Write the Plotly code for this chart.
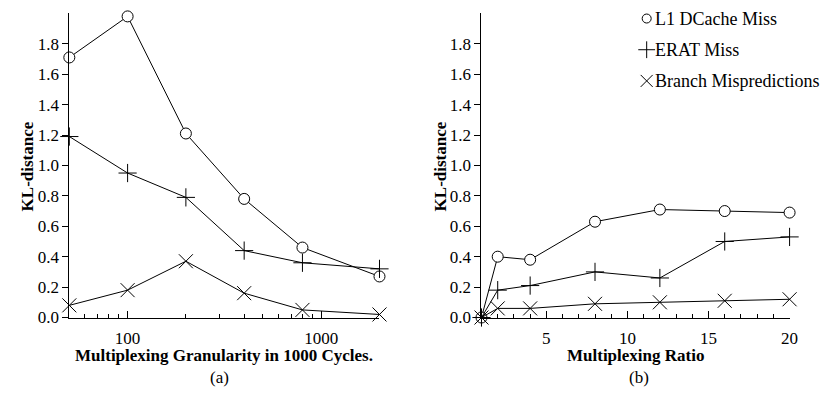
import plotly.graph_objects as go

# ---- data -------------------------------------------------------------
granularity = [50, 100, 200, 400, 800, 2000]          # x for panel (a), 1000 cycles
l1_miss_a = [1.71, 1.98, 1.21, 0.78, 0.46, 0.27]
erat_miss_a = [1.19, 0.95, 0.79, 0.44, 0.36, 0.32]
branch_mis_a = [0.08, 0.18, 0.37, 0.16, 0.05, 0.02]

ratio = [1, 2, 4, 8, 12, 16, 20]                       # x for panel (b)
l1_miss_b = [0.0, 0.40, 0.38, 0.63, 0.71, 0.70, 0.69]
erat_miss_b = [0.0, 0.18, 0.21, 0.30, 0.26, 0.50, 0.53]
branch_mis_b = [0.0, 0.06, 0.06, 0.09, 0.10, 0.11, 0.12]

series_names = ["L1 DCache Miss", "ERAT Miss", "Branch Mispredictions"]
y_ticks = [0.0, 0.2, 0.4, 0.6, 0.8, 1.0, 1.2, 1.4, 1.6, 1.8]
xb_ticks = [5, 10, 15, 20]

# ---- styling ------------------------------------------------------------
W, H = 827, 398
FONT = "Liberation Serif, Times New Roman, serif"
INK = "black"
symbols = ["circle", "cross-thin-open", "x-thin-open"]
fills = ["white", INK, INK]
sizes = [11, 13, 14]
legend_sizes = [9, 12, 12]


def px_x(p):
    return p / W


def px_y(p):
    return 1 - p / H


fig = go.Figure()

panels = [
    ("x", "y", granularity, [l1_miss_a, erat_miss_a, branch_mis_a]),
    ("x2", "y2", ratio, [l1_miss_b, erat_miss_b, branch_mis_b]),
]
for xa, ya, xs, ys_list in panels:
    for name, ys, sym, fc, sz in zip(series_names, ys_list, symbols, fills, sizes):
        fig.add_trace(go.Scatter(
            x=xs, y=ys, name=name, xaxis=xa, yaxis=ya,
            mode="lines+markers", showlegend=False, cliponaxis=False,
            line=dict(color=INK, width=1),
            marker=dict(symbol=sym, size=sz, color=fc,
                        line=dict(color=INK, width=1)),
        ))

# key markers on a pixel-space overlay axis
key_x = [653, 653, 653]
key_y = [19, 51, 83]
for name, sym, fc, sz, kx, ky in zip(series_names, symbols, fills, legend_sizes, key_x, key_y):
    fig.add_trace(go.Scatter(
        x=[kx], y=[ky], xaxis="x3", yaxis="y3", mode="markers",
        showlegend=False, cliponaxis=False, hoverinfo="skip",
        marker=dict(symbol=sym, size=sz, color=fc, line=dict(color=INK, width=1)),
    ))
    fig.add_annotation(
        x=px_x(kx + 6), y=px_y(ky), xref="paper", yref="paper",
        text=name, showarrow=False, xanchor="left", yanchor="middle",
        font=dict(family=FONT, size=18, color=INK),
    )

plot_top, plot_bottom = 13.7, 325.7
ydom = [px_y(plot_bottom), px_y(plot_top)]

yaxis_common = dict(
    range=[0, 2.0], domain=ydom, tickmode="array", tickvals=y_ticks, tickformat=".1f",
    ticks="outside", ticklen=6, tickwidth=1, tickcolor=INK,
    showline=True, linecolor=INK, linewidth=1, showgrid=False, zeroline=False,
    tickfont=dict(family=FONT, size=17, color=INK),
)
xaxis_common = dict(
    ticks="inside", ticklen=7, tickwidth=1, tickcolor=INK,
    showline=True, linecolor=INK, linewidth=1, showgrid=False, zeroline=False,
    tickfont=dict(family=FONT, size=17, color=INK), ticklabelstandoff=5,
)

fig.update_layout(
    width=W, height=H,
    margin=dict(l=0, r=0, t=0, b=0),
    paper_bgcolor="white", plot_bgcolor="rgba(0,0,0,0)",
    showlegend=False,
    font=dict(family=FONT, size=17, color=INK),
    xaxis=dict(**xaxis_common, type="log", domain=[px_x(70), px_x(383.2)],
               range=[1.69897, 3.30103], tickmode="linear", tick0=0, dtick=1,
               exponentformat="none", anchor="y",
               minor=dict(dtick="D1", ticks="inside", ticklen=4,
                          tickcolor=INK, showgrid=False)),
    yaxis=dict(**yaxis_common, anchor="x"),
    xaxis2=dict(**xaxis_common, domain=[px_x(486.2), px_x(797.3)],
                range=[1, 20], tickmode="array", tickvals=xb_ticks, anchor="y2",
                minor=dict(tickmode="linear", dtick=1, tick0=0, ticks="inside",
                           ticklen=4, tickcolor=INK, showgrid=False)),
    yaxis2=dict(**yaxis_common, anchor="x2"),
    xaxis3=dict(domain=[0, 1], range=[0, W], visible=False, anchor="y3"),
    yaxis3=dict(domain=[0, 1], range=[H, 0], visible=False, anchor="x3"),
)

# axis titles and panel captions
title_font = dict(family=FONT, size=17, color=INK)
texts = [
    ("<b>Multiplexing Granularity in 1000 Cycles.</b>", 226.5, 365, 0),
    ("<b>Multiplexing Ratio</b>", 641.7, 365, 0),
    ("(a)", 222, 387, 0),
    ("(b)", 645, 387, 0),
    ("<b>KL-distance</b>", 28, 171, -90),
    ("<b>KL-distance</b>", 445, 171, -90),
]
for txt, x, y, ang in texts:
    fig.add_annotation(
        x=px_x(x), y=px_y(y), xref="paper", yref="paper", text=txt,
        showarrow=False, xanchor="center", yanchor="middle", textangle=ang,
        font=title_font,
    )

fig.write_html("out.html")
